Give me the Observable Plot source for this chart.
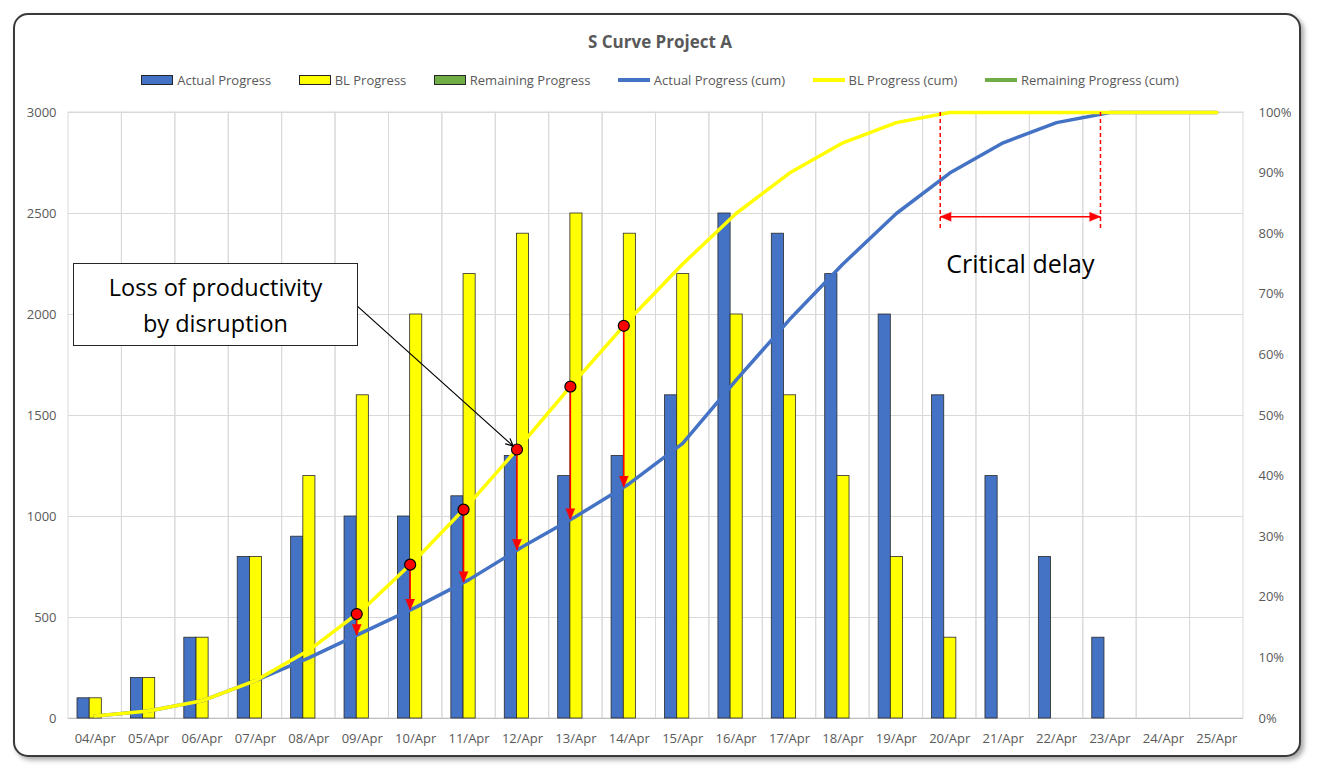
<!DOCTYPE html>
<html><head><meta charset="utf-8">
<script src="https://cdn.jsdelivr.net/npm/d3@7"></script>
<script src="https://cdn.jsdelivr.net/npm/@observablehq/plot@0.6"></script>
<style>
html,body{margin:0;padding:0;background:#fff;}
body{width:1320px;height:776px;position:relative;overflow:hidden;font-family:"Open Sans",sans-serif;}
#frame{position:absolute;left:13px;top:13px;width:1288px;height:744px;box-sizing:border-box;border:2px solid #3a3a3a;border-radius:15px;box-shadow:3px 3px 5px rgba(0,0,0,0.35);background:#fff;}
#title{position:absolute;left:0;width:1320px;top:30px;text-align:center;font-weight:bold;font-size:17px;line-height:23px;color:#595959;}
#legend{position:absolute;left:0;width:1320px;top:71px;display:flex;justify-content:center;gap:27.5px;font-size:13px;line-height:18px;color:#595959;}
.item{display:flex;align-items:center;gap:4px;}
.sw{width:32px;height:10px;box-sizing:border-box;border:1px solid #262626;}
.ln{width:32px;height:4px;}
#chart{position:absolute;left:0;top:95px;}
#box{position:absolute;left:73px;top:263px;width:285px;height:83px;box-sizing:border-box;border:1.5px solid #262626;background:#fff;display:flex;align-items:center;justify-content:center;text-align:center;font-size:23.5px;line-height:36px;color:#000;}
</style></head>
<body>
<div id="frame"></div>
<div id="title">S Curve Project A</div>
<div id="legend"></div>
<div id="chart"></div>
<div id="box">Loss of productivity<br>by disruption</div>
<script>
// ---- data ----
const dates = ["04/Apr","05/Apr","06/Apr","07/Apr","08/Apr","09/Apr","10/Apr","11/Apr","12/Apr","13/Apr","14/Apr","15/Apr","16/Apr","17/Apr","18/Apr","19/Apr","20/Apr","21/Apr","22/Apr","23/Apr","24/Apr","25/Apr"];
const actualProgress = [100,200,400,800,900,1000,1000,1100,1300,1200,1300,1600,2500,2400,2200,2000,1600,1200,800,400,0,0];
const blProgress = [100,200,400,800,1200,1600,2000,2200,2400,2500,2400,2200,2000,1600,1200,800,400,0,0,0,0,0];
const remainingProgress = [0,0,0,0,0,0,0,0,0,0,0,0,0,0,0,0,0,0,0,0,0,0];
const leftTicks = [0,500,1000,1500,2000,2500,3000];
const rightTicks = [0,10,20,30,40,50,60,70,80,90,100];
const disruptionDates = ["09/Apr","10/Apr","11/Apr","12/Apr","13/Apr","14/Apr"];
const pointerTarget = "12/Apr";
const criticalDelay = {from: "20/Apr", to: "23/Apr", top: 100, bottom: 80.5, arrowAt: 82.8, labelAt: 74.9};

const colors = {actual: "#4472C4", bl: "#FFFF00", remaining: "#70AD47"};
const legendItems = [
  {label: "Actual Progress", color: colors.actual, kind: "bar"},
  {label: "BL Progress", color: colors.bl, kind: "bar"},
  {label: "Remaining Progress", color: colors.remaining, kind: "bar"},
  {label: "Actual Progress (cum)", color: colors.actual, kind: "line"},
  {label: "BL Progress (cum)", color: colors.bl, kind: "line"},
  {label: "Remaining Progress (cum)", color: colors.remaining, kind: "line"}
];

// ---- derived ----
const yMax = 3000;
const total = d3.sum(blProgress);
const toY = pct => pct / 100 * yMax;
const actualCum = Array.from(d3.cumsum(actualProgress), v => v / total * yMax);
const blCum = Array.from(d3.cumsum(blProgress), v => v / total * yMax);
const rows = dates.map((d, i) => ({date: d, actual: actualProgress[i], bl: blProgress[i], remaining: remainingProgress[i], actualCum: actualCum[i], blCum: blCum[i]}));

// dots sit where the BL bar starts (slightly left of the category centre), on the curves
const W = 1320, H = 660, mL = 68, mR = 77;
const bw = (W - mL - mR) / dates.length;
const shift = 5.5; // px left of centre
const f = shift / bw;
const idx = d => dates.indexOf(d);
const interp = (arr, i) => arr[i] - f * (arr[i] - (i > 0 ? arr[i - 1] : 0));
const disruption = disruptionDates.map(d => ({date: d, from: interp(blCum, idx(d)), to: interp(actualCum, idx(d))}));
const target = disruption.find(d => d.date === pointerTarget);

// legend
const lg = document.getElementById("legend");
for (const it of legendItems) {
  const el = document.createElement("div"); el.className = "item";
  const sw = document.createElement("div");
  sw.className = it.kind === "bar" ? "sw" : "ln"; sw.style.background = it.color;
  const tx = document.createElement("span"); tx.textContent = it.label;
  el.append(sw, tx); lg.append(el);
}

const gap1 = 9, gap2 = 21.2, gap3 = 33.3, gap4 = 45.5;
const barStyle = {stroke: "#2a2a2a", strokeWidth: 0.8};

const chart = Plot.plot({
  width: W, height: H,
  marginLeft: mL, marginRight: mR, marginTop: 17, marginBottom: 37,
  style: {fontFamily: "Open Sans, sans-serif", fontSize: "13px", color: "#595959", background: "transparent"},
  x: {type: "band", domain: dates, padding: 0, round: false, tickSize: 0, tickPadding: 15, label: null},
  y: {domain: [0, yMax], axis: null},
  marks: [
    // grid
    Plot.barY(dates, {x: d => d, y1: 0, y2: yMax, fill: "none", stroke: "#d9d9d9", strokeWidth: 1}),
    Plot.ruleY(leftTicks.filter(t => t > 0), {stroke: "#d9d9d9", strokeWidth: 1}),
    Plot.ruleY([0], {stroke: "#bfbfbf", strokeWidth: 1}),
    // bars
    Plot.barY(rows.filter(r => r.actual > 0), {x: "date", y: "actual", fill: colors.actual, insetLeft: gap1, insetRight: bw - gap2, ...barStyle}),
    Plot.barY(rows.filter(r => r.bl > 0), {x: "date", y: "bl", fill: colors.bl, insetLeft: gap2, insetRight: bw - gap3, ...barStyle}),
    Plot.barY(rows.filter(r => r.remaining > 0), {x: "date", y: "remaining", fill: colors.remaining, insetLeft: gap3, insetRight: bw - gap4, ...barStyle}),
    // cumulative curves
    Plot.line(rows, {x: "date", y: "actualCum", stroke: colors.actual, strokeWidth: 3.5}),
    Plot.line(rows, {x: "date", y: "blCum", stroke: colors.bl, strokeWidth: 3.5}),
    // disruption arrows
    Plot.ruleX(disruption, {x: "date", y1: "from", y2: "to", dx: -shift, stroke: "#FF0000", strokeWidth: 1.5}),
    Plot.vector(disruption, {x: "date", y: "to", dx: -shift, rotate: 180, length: 11, r: 4.5, shape: "spike", anchor: "end", fill: "#FF0000", stroke: "#FF0000", strokeWidth: 0.5}),
    Plot.dot(disruption, {x: "date", y: "from", dx: -shift, r: 5.5, fill: "#FF0000", stroke: "#000", strokeWidth: 1.2}),
    // pointer from the text box
    Plot.arrow([target], {x1: () => "09/Apr", y1: () => 2044, x2: "date", y2: "from", dx: -shift, insetEnd: 5, stroke: "#000", strokeWidth: 1.2, headLength: 10, headAngle: 50}),
    // critical delay
    Plot.ruleX([criticalDelay.from, criticalDelay.to], {x: d => d, y1: toY(criticalDelay.top), y2: toY(criticalDelay.bottom), dx: -9.5, stroke: "#FF0000", strokeWidth: 1.5, strokeDasharray: "4,3"}),
    Plot.link([criticalDelay], {x1: "from", x2: "to", y1: () => toY(criticalDelay.arrowAt), y2: () => toY(criticalDelay.arrowAt), dx: -9.5, stroke: "#FF0000", strokeWidth: 1.5}),
    Plot.vector([criticalDelay], {x: "to", y: () => toY(criticalDelay.arrowAt), dx: -9.5, rotate: 90, length: 11, r: 4.5, shape: "spike", anchor: "end", fill: "#FF0000", stroke: "#FF0000", strokeWidth: 0.5}),
    Plot.vector([criticalDelay], {x: "from", y: () => toY(criticalDelay.arrowAt), dx: -9.5, rotate: -90, length: 11, r: 4.5, shape: "spike", anchor: "end", fill: "#FF0000", stroke: "#FF0000", strokeWidth: 0.5}),
    Plot.text([criticalDelay], {x: () => "21/Apr", y: () => toY(criticalDelay.labelAt), dx: bw / 2 - 9.5, text: () => "Critical delay", fontSize: 25, fill: "#000", fontFamily: "Open Sans, sans-serif"}),
    // y axes as text
    Plot.text(leftTicks, {y: d => d, text: d => String(d), frameAnchor: "left", textAnchor: "end", dx: -12, fill: "#595959", fontSize: 13}),
    Plot.text(rightTicks, {y: d => toY(d), text: d => d + "%", frameAnchor: "right", textAnchor: "start", dx: 15, fill: "#595959", fontSize: 13})
  ]
});
document.getElementById("chart").append(chart);
</script>
</body></html>
